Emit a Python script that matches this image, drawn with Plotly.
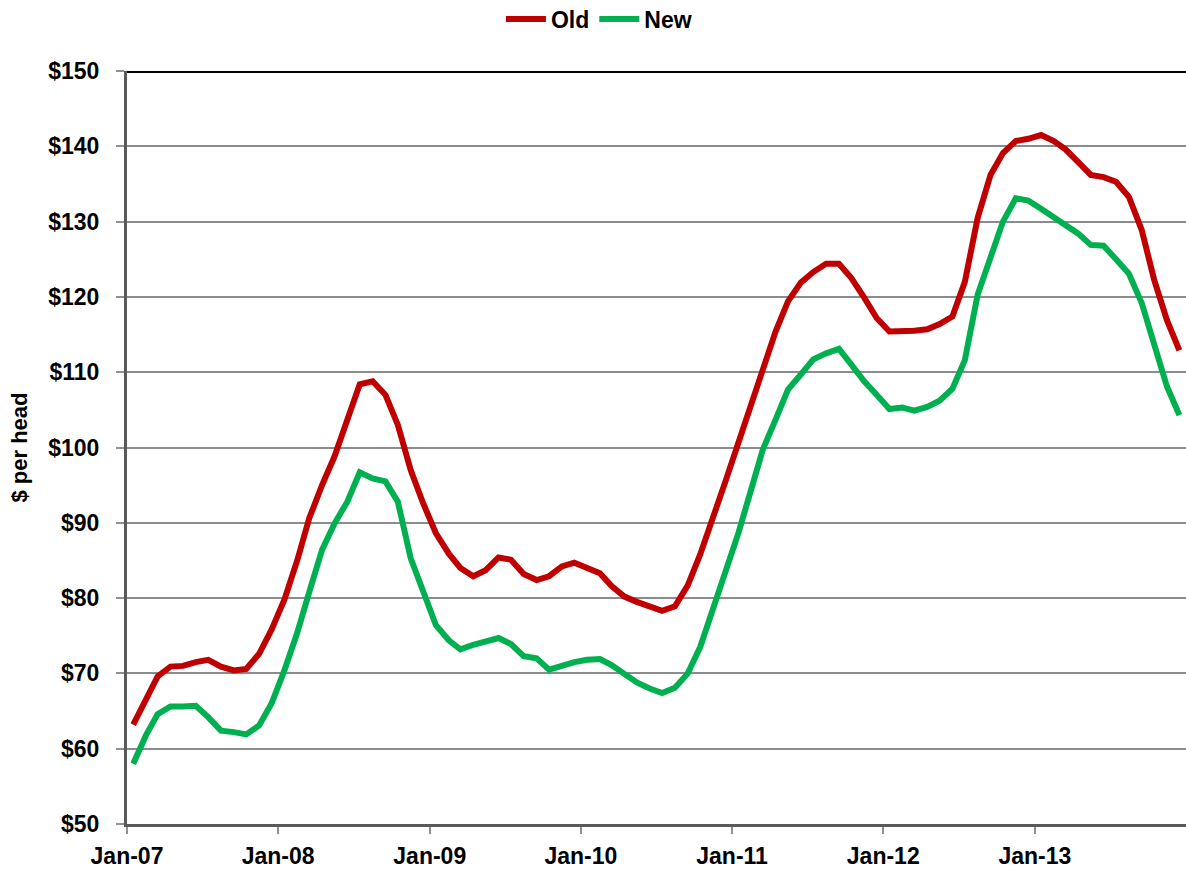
import plotly.graph_objects as go
import pandas as pd

# Monthly series Jan-2007 .. Dec-2013
start_year = 2007
n_months = 84
months = [pd.Timestamp(start_year + i // 12, i % 12 + 1, 16) for i in range(n_months)]

old_vals = [63.2, 66.4, 69.6, 70.9, 71.0, 71.5, 71.8, 70.9, 70.4, 70.6, 72.6, 75.8,
            79.8, 85.0, 90.6, 95.0, 98.8, 103.7, 108.4, 108.8, 107.0, 103.0, 97.0, 92.6,
            88.6, 85.9, 84.0, 82.9, 83.7, 85.4, 85.1, 83.2, 82.4, 82.9, 84.2, 84.7,
            84.1, 83.3, 81.6, 80.2, 79.5, 78.8, 78.3, 78.9, 81.7, 85.8, 90.5, 95.5,
            100.6, 105.9, 110.6, 115.4, 119.4, 121.9, 123.3, 124.4, 124.4, 122.5, 119.9, 117.2,
            115.4, 115.4, 115.5, 115.7, 116.4, 117.4, 122.0, 130.5, 136.2, 139.1, 140.7, 141.0,
            141.5, 140.7, 139.6, 137.9, 136.2, 135.9, 135.3, 133.3, 128.9, 122.3, 116.9, 112.9]

new_vals = [58.0, 61.8, 64.6, 65.6, 65.6, 65.7, 64.2, 62.4, 62.2, 61.9, 63.1, 66.0,
            70.4, 75.4, 80.8, 86.4, 89.9, 92.8, 96.7, 95.9, 95.5, 92.8, 85.3, 81.0,
            76.4, 74.4, 73.2, 73.8, 74.2, 74.7, 73.9, 72.3, 72.0, 70.5, 71.0, 71.5,
            71.8, 71.9, 71.1, 69.9, 68.8, 68.0, 67.4, 68.1, 70.0, 73.5, 78.5, 83.4,
            88.6, 94.4, 99.7, 103.7, 107.7, 109.7, 111.7, 112.5, 113.1, 111.0, 108.8, 107.0,
            105.1, 105.3, 104.9, 105.4, 106.2, 107.8, 111.6, 120.3, 125.4, 130.0, 133.1, 132.8,
            131.7, 130.5, 129.4, 128.4, 126.9, 126.8, 125.0, 123.1, 119.2, 113.6, 108.1, 104.3]

tick_dates = [pd.Timestamp(y, 1, 1) for y in range(2007, 2014)]
tick_labels = ["Jan-07", "Jan-08", "Jan-09", "Jan-10", "Jan-11", "Jan-12", "Jan-13"]
y_ticks = list(range(50, 151, 10))
y_labels = [f"${v}" for v in y_ticks]

fig = go.Figure()
fig.add_trace(go.Scatter(x=months, y=old_vals, mode="lines", name="Old",
                         line=dict(color="#C00000", width=6)))
fig.add_trace(go.Scatter(x=months, y=new_vals, mode="lines", name="New",
                         line=dict(color="#00B050", width=6)))

font_main = "Liberation Sans, Arial, sans-serif"
W, H = 1186, 872

fig.update_layout(
    width=W, height=H,
    margin=dict(l=127, r=0, t=71, b=48),
    paper_bgcolor="white", plot_bgcolor="white",
    showlegend=True,
    legend=dict(orientation="h", x=0.505, xanchor="center",
                y=1 - 19 / H, yanchor="middle",
                xref="container", yref="container",
                font=dict(family=font_main, size=23, color="black", weight="bold"),
                itemwidth=40, traceorder="normal"),
    xaxis=dict(type="date", range=[pd.Timestamp(2007, 1, 1), pd.Timestamp(2014, 1, 1)],
               tickvals=tick_dates, ticktext=tick_labels,
               showgrid=False, showline=True, linecolor="#5a5a5a", linewidth=3,
               ticks="outside", ticklen=7, tickcolor="#909090", tickwidth=2,
               ticklabelstandoff=2,
               tickfont=dict(family=font_main, size=23, color="black", weight="bold"),
               zeroline=False),
    yaxis=dict(range=[50, 150], tickvals=y_ticks, ticktext=y_labels,
               showgrid=True, gridcolor="#8c8c8c", gridwidth=2,
               showline=True, linecolor="#5a5a5a", linewidth=3,
               ticks="outside", ticklen=8, tickcolor="#909090", tickwidth=2,
               ticklabelstandoff=12,
               tickfont=dict(family=font_main, size=23, color="black", weight="bold"),
               title=dict(text="$ per head", standoff=15,
                          font=dict(family=font_main, size=22, color="black", weight="bold")),
               zeroline=False),
)

# thick black top border at the $150 level
fig.add_shape(type="line", xref="paper", yref="y", x0=0, x1=1, y0=150, y1=150,
              line=dict(color="black", width=4), layer="above")

fig.write_html("out.html",
               config={"displayModeBar": False},
               post_script="document.body.style.margin='0';document.body.style.overflow='hidden';")
